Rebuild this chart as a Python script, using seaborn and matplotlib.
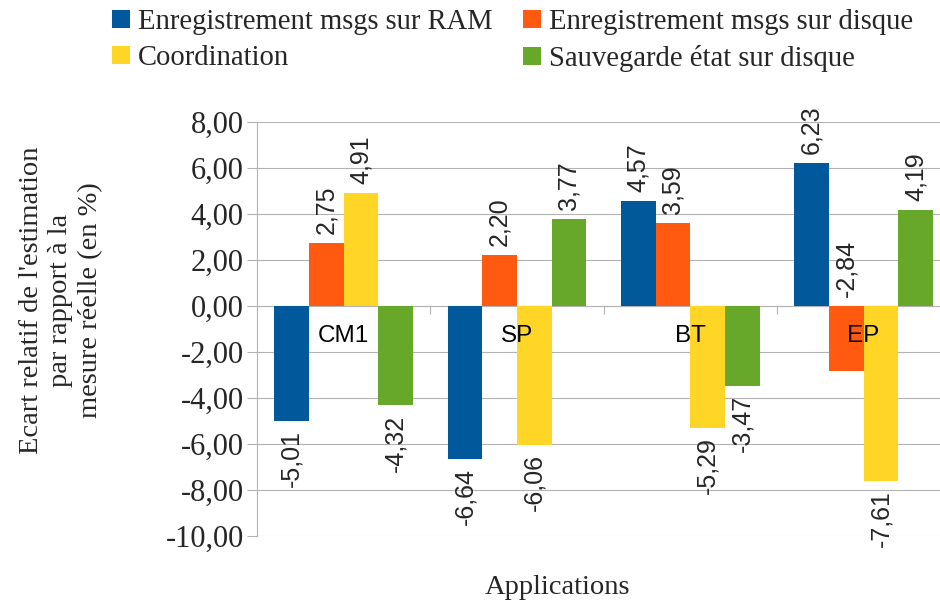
import matplotlib
matplotlib.use("Agg")
import matplotlib.pyplot as plt
import seaborn as sns
import pandas as pd

# Data: relative error of the estimate vs. measured value (%)
applications = ["CM1", "SP", "BT", "EP"]
series = [
    "Enregistrement msgs sur RAM",
    "Enregistrement msgs sur disque",
    "Coordination",
    "Sauvegarde état sur disque",
]
ram_logging = [-5.01, -6.64, 4.57, 6.23]
disk_logging = [2.75, 2.20, 3.59, -2.84]
coordination = [4.91, -6.06, -5.29, -7.61]
state_saving = [-4.32, 3.77, -3.47, 4.19]
y_ticks = [-10, -8, -6, -4, -2, 0, 2, 4, 6, 8]

colors = ["#00599a", "#ff5a10", "#ffd626", "#67a82a"]
values_by_series = [ram_logging, disk_logging, coordination, state_saving]

df = pd.DataFrame(
    [(app, s, vals[i]) for s, vals in zip(series, values_by_series)
     for i, app in enumerate(applications)],
    columns=["Application", "Série", "Valeur"],
)

sns.set_theme(style="white")
serif = ["Liberation Serif", "DejaVu Serif"]
sans = ["Liberation Sans", "DejaVu Sans"]
grid_col = "#b3b3b3"

fig = plt.figure(figsize=(9.4, 6.08), dpi=100)
W, H = 940, 608
ax = fig.add_axes([257 / W, 1 - 536 / H, (W - 257) / W, (536 - 122) / H])

sns.barplot(
    data=df, x="Application", y="Valeur", hue="Série",
    order=applications, hue_order=series, palette=colors,
    saturation=1, width=0.8, ax=ax, errorbar=None, zorder=3,
    linewidth=0, edgecolor="none",
)

handles, labels = ax.get_legend_handles_labels()
ax.get_legend().remove()

ax.set_xlim(-0.5, -0.5 + (W - 257) / 173.3)
ax.set_ylim(-10, 8)
ax.set_yticks(y_ticks)
ax.set_yticklabels([f"{t:.2f}".replace(".", ",") for t in y_ticks],
                   family=serif, fontsize=22)
ax.yaxis.grid(True, color=grid_col, linewidth=0.8, zorder=0)
ax.set_axisbelow(True)

for side in ["top", "right"]:
    ax.spines[side].set_visible(False)
ax.spines["left"].set_color(grid_col)
ax.spines["left"].set_linewidth(0.8)
ax.spines["bottom"].set_position(("data", 0))
ax.spines["bottom"].set_color(grid_col)
ax.spines["bottom"].set_linewidth(0.8)

ax.tick_params(axis="y", which="major", direction="out", length=7.5,
               width=0.8, color=grid_col, pad=2, left=True)
# category separators on the zero line
ax.set_xticks([0.5, 1.5, 2.5], minor=True)
ax.tick_params(axis="x", which="minor", direction="out", length=6,
               width=0.8, color=grid_col, bottom=True)
ax.tick_params(axis="x", which="major", length=0, labelbottom=False)
ax.set_xlabel("")
ax.set_ylabel("")

# category names just under the zero line, drawn over the bars
for i, app in enumerate(applications):
    ax.annotate(app, (i, 0), xytext=(0, -21.5), textcoords="offset points",
                ha="center", va="center", family=sans, fontsize=17.5,
                color="black", zorder=6)

# value labels, rotated
for s, vals, cont in zip(series, values_by_series, ax.containers):
    for app, v, bar in zip(applications, vals, cont):
        x = bar.get_x() + bar.get_width() / 2
        txt = f"{v:.2f}".replace(".", ",")
        if v >= 0 or (app == "EP" and s == series[1]):
            ax.annotate(txt, (x, max(v, 0)), xytext=(0, 6.5),
                        textcoords="offset points", ha="center", va="bottom",
                        rotation=90, family=sans, fontsize=18, zorder=6)
        else:
            ax.annotate(txt, (x, v), xytext=(0, -6.5),
                        textcoords="offset points", ha="center", va="top",
                        rotation=90, family=sans, fontsize=18, zorder=6)

fig.text(61 / W, 1 - 300 / H,
         "Ecart relatif de l'estimation\npar rapport à la\nmesure réelle (en %)",
         rotation=90, ha="center", va="center", multialignment="center",
         family=serif, fontsize=20.5, linespacing=1.25)
fig.text(557 / W, 1 - 588 / H, "Applications", ha="center", va="center",
         family=serif, fontsize=20.5)

# legend filled row by row
order = [0, 2, 1, 3]
fig.legend([handles[i] for i in order], [labels[i] for i in order],
           ncol=2, loc="upper left",
           bbox_to_anchor=(112 / W, 1 - 9 / H), frameon=False,
           prop={"family": serif, "size": 20.6}, handlelength=0.62,
           handleheight=0.62, handletextpad=0.3, columnspacing=1.05,
           labelspacing=0.36, borderpad=0, borderaxespad=0)

fig.savefig("out.png", dpi=100)
